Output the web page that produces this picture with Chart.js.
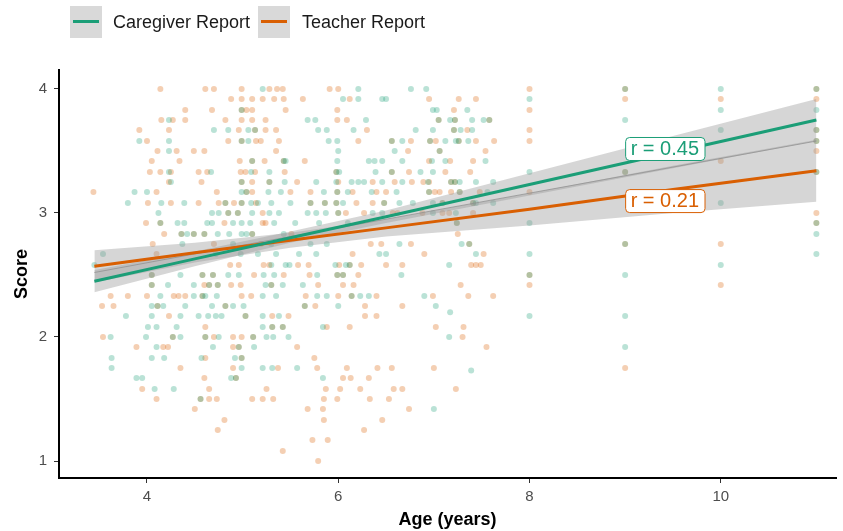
<!DOCTYPE html>
<html>
<head>
<meta charset="utf-8">
<script src="https://cdn.jsdelivr.net/npm/chart.js@4.4.1/dist/chart.umd.min.js"></script>
<style>
  body { margin: 0; background: #fff; font-family: 'Liberation Sans', Arial, sans-serif; }
  #wrap { position: relative; width: 843px; height: 531px; }
  .key { position: absolute; top: 6px; width: 32px; height: 32px; background: #d9d9d9; }
  .key span { position: absolute; left: 3px; right: 3px; top: 14px; height: 3px; }
  .lab { position: absolute; top: 11px; font-size: 18px; line-height: 22px; color: #1a1a1a; white-space: nowrap; }
</style>
</head>
<body>
<div id="wrap">
  <canvas id="scoreChart" width="843" height="531"></canvas>
  <div class="key" style="left:70px"><span style="background:#1b9e77"></span></div>
  <div class="lab" style="left:113px">Caregiver Report</div>
  <div class="key" style="left:258px"><span style="background:#d95f02"></span></div>
  <div class="lab" style="left:302px">Teacher Report</div>
</div>
<script>
const xTicks = [4, 6, 8, 10];
const yTicks = [1, 2, 3, 4];

// [score, ages at that score]
const caregiverRows = [
  [4.00, [5.21, 6.21, 6.76, 6.92, 9, 10, 11]],
  [3.92, [6.05, 6.21, 6.46, 6.50, 8]],
  [3.83, [4.99, 6.99, 7.03, 7.35, 10, 11]],
  [3.75, [4.23, 5.68, 5.76, 6.29, 7.05, 7.17, 7.22, 7.40, 7.52, 7.58, 9]],
  [3.67, [4.70, 4.85, 5.06, 5.13, 5.79, 5.88, 6.16, 6.81, 6.99, 7.21, 7.28, 7.40, 10, 11]],
  [3.58, [3.92, 4.23, 4.99, 5.06, 5.90, 5.99, 6.56, 6.67, 6.96, 7.12, 7.23, 7.26, 7.36, 11]],
  [3.50, [4.23, 6.00, 6.59, 7.06]],
  [3.42, [5.10, 5.43, 5.45, 5.99, 6.32, 6.38, 6.46, 6.67, 6.98, 7.12, 7.54]],
  [3.33, [4.23, 4.67, 5.09, 5.28, 5.98, 6.01, 6.39, 6.56, 6.86, 6.99, 8, 9, 11]],
  [3.25, [4.25, 4.99, 5.28, 5.44, 5.77, 5.98, 6.14, 6.21, 6.27, 6.46, 6.67, 6.94, 7.18, 7.22, 7.27, 7.44, 7.62]],
  [3.17, [3.87, 4.00, 4.99, 5.04, 5.27, 5.40, 5.85, 5.99, 6.10, 6.35, 6.61, 6.95, 7.27, 7.56]],
  [3.08, [3.80, 4.15, 4.39, 4.82, 4.99, 5.09, 5.16, 5.30, 5.50, 5.71, 5.86, 5.98, 6.05, 6.48, 6.64, 6.78, 6.99, 7.09, 7.41, 7.44, 7.62, 10]],
  [3.00, [4.12, 4.68, 4.75, 4.85, 4.95, 5.10, 5.28, 5.38, 5.68, 5.77, 5.87, 6.00, 6.36, 6.46, 6.99, 7.23]],
  [2.92, [4.14, 4.32, 4.39, 4.63, 4.68, 4.90, 4.99, 5.08, 5.33, 5.55, 5.80, 6.10, 7.24, 8, 11]],
  [2.83, [4.36, 4.42, 4.49, 4.60, 4.74, 4.86, 4.99, 5.04, 5.10, 5.43, 11]],
  [2.75, [4.37, 4.90, 5.30, 5.71, 5.88, 6.64, 7.29, 7.37, 9]],
  [2.67, [3.54, 4.72, 4.98, 5.16, 5.35, 5.59, 5.77, 6.43, 6.50, 7.44, 8, 11]],
  [2.58, [3.45, 5.30, 5.45, 5.49, 5.97, 6.08, 6.12, 7.16, 10]],
  [2.50, [4.05, 4.35, 4.58, 4.69, 4.85, 4.96, 5.22, 5.33, 5.78, 5.99, 6.05, 6.66, 8, 9]],
  [2.42, [4.05, 4.22, 4.49, 4.65, 4.74, 5.24, 5.30, 5.42, 5.63]],
  [2.33, [4.14, 4.49, 4.58, 4.61, 4.73, 5.21, 5.35, 5.78, 5.88, 6.14, 6.23, 6.32, 6.90]],
  [2.25, [4.05, 4.11, 4.17, 4.40, 4.68, 4.82, 4.90, 5.01, 5.65, 6.00, 7.02]],
  [2.20, [7.17]],
  [2.17, [3.78, 4.05, 4.35, 4.54, 4.64, 4.72, 4.78, 5.03, 5.21, 5.38, 8, 9]],
  [2.08, [4.01, 4.10, 4.31, 5.21, 5.31, 5.42, 5.84]],
  [2.00, [3.62, 3.99, 4.27, 4.35, 4.61, 4.75, 5.11, 5.25, 5.32, 5.48, 7.16]],
  [1.92, [4.10, 4.69, 4.96, 5.12, 9]],
  [1.83, [3.63, 4.05, 4.18, 4.57, 4.92, 4.99]],
  [1.75, [3.63, 4.99, 5.21, 5.31, 5.57]],
  [1.73, [7.39]],
  [1.67, [3.89, 3.95, 4.88, 4.93, 5.84]],
  [1.58, [4.08, 4.28]],
  [1.50, [4.56]],
  [1.42, [7.00]]
];

const teacherRows = [
  [4.00, [4.14, 4.61, 4.70, 4.99, 5.28, 5.36, 5.42, 5.91, 6.00, 8, 9, 11]],
  [3.92, [4.88, 4.99, 5.10, 5.21, 5.33, 5.43, 5.63, 6.12, 6.95, 7.26, 7.44, 9, 10, 11]],
  [3.83, [4.40, 4.68, 4.99, 5.04, 5.10, 5.45, 5.99, 7.21, 8]],
  [3.75, [4.15, 4.27, 4.40, 4.82, 4.99, 5.10, 5.24, 5.99, 6.09, 7.05, 7.22, 7.58]],
  [3.67, [3.92, 4.23, 4.96, 5.13, 5.24, 5.35, 6.30, 7.21, 7.35, 8, 11]],
  [3.58, [4.00, 4.85, 4.99, 5.14, 5.19, 5.38, 6.21, 6.56, 6.76, 6.96, 7.02, 7.26, 7.44, 7.63, 8, 11]],
  [3.50, [4.11, 4.31, 4.49, 4.60, 5.35, 6.73, 7.06, 7.54, 11]],
  [3.42, [4.05, 4.34, 4.97, 5.10, 5.23, 5.43, 5.65, 6.95, 7.17, 7.41, 10]],
  [3.33, [4.03, 4.14, 4.25, 4.54, 4.63, 4.98, 5.03, 5.13, 5.44, 5.98, 6.56, 6.74, 7.12, 7.38, 9, 11]],
  [3.25, [4.23, 4.57, 4.99, 5.10, 5.28, 5.57, 6.00, 6.36, 6.59, 6.77, 6.89, 6.95, 7.18, 7.22]],
  [3.17, [3.44, 4.10, 4.73, 5.04, 5.10, 5.50, 5.71, 5.99, 6.15, 6.40, 6.50, 6.95, 7.01, 7.06, 7.18, 7.27, 7.48, 8]],
  [3.08, [4.01, 4.25, 4.54, 4.75, 4.82, 4.91, 4.99, 5.14, 5.71, 5.86, 5.98, 6.19, 6.36, 6.48, 7.09, 7.41]],
  [3.00, [4.85, 4.95, 5.21, 6.00, 6.08, 6.27, 6.57, 6.62, 6.88, 7.09, 7.16, 7.41, 11]],
  [2.92, [3.99, 4.14, 4.81, 5.21, 5.24, 7.24, 11]],
  [2.83, [4.18, 4.36, 4.49, 4.60, 5.10, 5.51, 7.25]],
  [2.75, [4.06, 4.70, 5.19, 6.34, 6.45, 6.76, 7.37, 9, 10]],
  [2.67, [4.10, 6.15, 6.90, 7.52]],
  [2.58, [4.87, 4.96, 5.22, 5.28, 5.58, 5.69, 6.01, 6.12, 6.24, 6.50, 6.67, 7.39, 7.44, 7.49]],
  [2.50, [4.05, 4.58, 4.69, 5.12, 5.43, 5.70, 5.99, 6.05, 6.21, 8]],
  [2.42, [4.05, 4.60, 4.65, 4.74, 4.88, 4.98, 5.30, 5.79, 6.05, 6.16, 7.28, 8, 10]],
  [2.33, [3.62, 3.80, 4.00, 4.28, 4.33, 4.40, 4.58, 4.99, 5.09, 5.66, 6.00, 6.14, 6.40, 6.99, 7.36, 7.62]],
  [2.25, [3.53, 3.65, 4.11, 4.82, 5.65, 5.76, 6.28, 6.67]],
  [2.17, [4.23, 5.03, 5.31, 5.48, 6.28, 6.40]],
  [2.08, [4.61, 5.31, 5.42, 5.88, 6.12, 7.02, 7.31]],
  [2.00, [3.54, 4.27, 4.61, 4.70, 4.90, 4.99, 5.11, 7.30]],
  [1.92, [3.89, 4.17, 4.22, 4.90, 4.96, 5.57, 7.55]],
  [1.83, [4.61, 4.99, 5.75]],
  [1.75, [4.35, 4.90, 5.37, 5.78, 6.09, 6.41, 6.56, 7.00, 9]],
  [1.67, [4.60, 4.93, 6.05, 6.13, 6.32]],
  [1.58, [3.95, 4.65, 5.25, 5.87, 6.02, 6.23, 6.58, 6.67, 7.23]],
  [1.50, [4.10, 4.56, 4.65, 4.73, 5.10, 5.21, 5.32, 5.85, 5.99, 6.33, 6.53]],
  [1.42, [4.50, 5.68, 5.84, 6.74]],
  [1.33, [4.81, 5.85, 6.46]],
  [1.25, [4.74, 6.27]],
  [1.17, [5.73, 5.89]],
  [1.08, [5.42]],
  [1.00, [5.79]]
];

// fitted lines + confidence bands, read at these ages
const fitAges = [3.45, 4.5, 5.5, 6.5, 8, 9.5, 11];
const caregiverFit = [2.45, 2.63, 2.80, 2.97, 3.23, 3.49, 3.75];
const caregiverUpper = [2.54, 2.69, 2.85, 3.02, 3.32, 3.62, 3.92];
const caregiverLower = [2.36, 2.57, 2.76, 2.92, 3.14, 3.36, 3.58];
const teacherFit = [2.57, 2.68, 2.78, 2.88, 3.03, 3.19, 3.34];
const teacherUpper = [2.70, 2.76, 2.84, 2.95, 3.16, 3.38, 3.59];
const teacherLower = [2.44, 2.60, 2.72, 2.81, 2.90, 3.00, 3.09];
const pooledFit = [2.52, 2.67, 2.81, 2.95, 3.16, 3.37, 3.58];

const rLabels = ['r = 0.45', 'r = 0.21'];
const rLabelScores = [3.52, 3.10];

const GREEN = '#1b9e77';
const ORANGE = '#d95f02';
const BAND = 'rgba(153, 153, 153, 0.4)';

function toPoints(rows) {
    const pts = [];
    rows.forEach(([score, ages]) => ages.forEach(a => pts.push({ x: a, y: score })));
    return pts;
}
function series(ys) {
    return fitAges.map((a, i) => ({ x: a, y: ys[i] }));
}

// draws the boxed r labels at age 9
const rLabelPlugin = {
    id: 'rLabelPlugin',
    afterDatasetsDraw(chart) {
        const { ctx, scales } = chart;
        const colors = [GREEN, ORANGE];
        ctx.save();
        ctx.font = '20px "Liberation Sans", Arial, sans-serif';
        ctx.textBaseline = 'middle';
        rLabels.forEach((txt, i) => {
            const x = scales.x.getPixelForValue(9);
            const y = scales.y.getPixelForValue(rLabelScores[i]);
            const w = ctx.measureText(txt).width + 11;
            const h = 23;
            ctx.beginPath();
            ctx.roundRect(x + 0.5, y - h / 2 + 0.5, w, h, 4);
            ctx.fillStyle = '#fff';
            ctx.fill();
            ctx.lineWidth = 1;
            ctx.strokeStyle = colors[i];
            ctx.stroke();
            ctx.fillStyle = colors[i];
            ctx.fillText(txt, x + 5.5, y + 1);
        });
        ctx.restore();
    }
};

const lineBase = { type: 'line', pointRadius: 0, tension: 0, fill: false };

const data = {
    datasets: [
        { ...lineBase, data: series(caregiverFit), borderColor: GREEN, borderWidth: 3, order: 0 },
        { ...lineBase, data: series(teacherFit), borderColor: ORANGE, borderWidth: 3, order: 0 },
        { ...lineBase, data: series(pooledFit), borderColor: 'rgba(140,140,140,0.7)', borderWidth: 1, order: 1 },
        { ...lineBase, data: series(caregiverUpper), borderWidth: 0, borderColor: 'rgba(0,0,0,0)', order: 2 },
        { ...lineBase, data: series(caregiverLower), borderWidth: 0, borderColor: 'rgba(0,0,0,0)', fill: '-1', backgroundColor: BAND, order: 2 },
        { ...lineBase, data: series(teacherUpper), borderWidth: 0, borderColor: 'rgba(0,0,0,0)', order: 3 },
        { ...lineBase, data: series(teacherLower), borderWidth: 0, borderColor: 'rgba(0,0,0,0)', fill: '-1', backgroundColor: BAND, order: 3 },
        { type: 'scatter', data: toPoints(caregiverRows), backgroundColor: 'rgba(27, 158, 119, 0.3)', borderWidth: 0, pointRadius: 3, order: 4 },
        { type: 'scatter', data: toPoints(teacherRows), backgroundColor: 'rgba(217, 95, 2, 0.3)', borderWidth: 0, pointRadius: 3, order: 5 }
    ]
};

const tickFont = { family: '"Liberation Sans", Arial, sans-serif', size: 15 };
const titleFont = { family: '"Liberation Sans", Arial, sans-serif', size: 18, weight: 'bold' };

const chart = new Chart(document.getElementById('scoreChart'), {
    type: 'scatter',
    data: data,
    plugins: [rLabelPlugin],
    options: {
        responsive: false,
        animation: false,
        events: [],
        layout: { padding: { top: 70, right: 7, left: 0, bottom: 0 } },
        plugins: { legend: { display: false }, tooltip: { enabled: false } },
        scales: {
            x: {
                type: 'linear',
                min: 3.08,
                max: 11.205,
                afterFit: s => { s.height = 53; },
                afterBuildTicks: s => { s.ticks = xTicks.map(v => ({ value: v })); },
                grid: { drawOnChartArea: false, color: '#333', tickLength: 5, tickWidth: 1 },
                border: { display: true, color: '#000', width: 2 },
                ticks: { color: '#4d4d4d', font: tickFont, padding: 5, maxRotation: 0 },
                title: { display: true, text: 'Age (years)', color: '#000', font: titleFont, padding: { top: 0, bottom: 0 } }
            },
            y: {
                type: 'linear',
                min: 0.863,
                max: 4.153,
                afterFit: s => { s.width = 59; },
                afterBuildTicks: s => { s.ticks = yTicks.map(v => ({ value: v })); },
                grid: { drawOnChartArea: false, color: '#333', tickLength: 5, tickWidth: 1 },
                border: { display: true, color: '#000', width: 2 },
                ticks: { color: '#4d4d4d', font: tickFont, padding: 7 },
                title: { display: true, text: 'Score', color: '#000', font: titleFont, padding: { top: 11, bottom: 0 } }
            }
        }
    }
});
</script>
</body>
</html>
